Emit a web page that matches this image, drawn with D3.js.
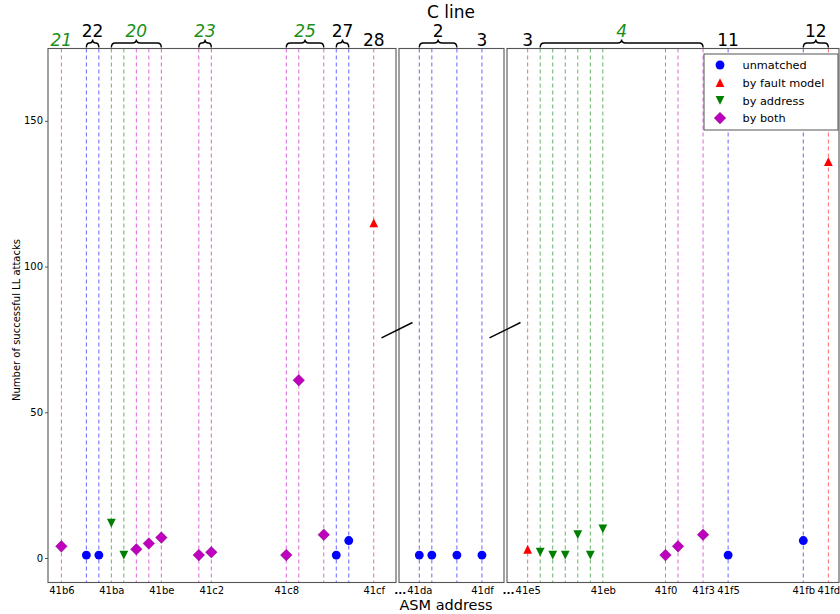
<!DOCTYPE html>
<html>
<head>
<meta charset="utf-8">
<script src="https://cdn.jsdelivr.net/npm/d3@7"></script>
<style>
  body { margin: 0; background: #fff; }
  text { font-family: "DejaVu Sans", sans-serif; }
</style>
</head>
<body>
<div id="graphique"></div>
<script>
// data
const addrs = ['41b6','41b8','41b9','41ba','41bb','41bc','41bd','41be','41c1','41c2','41c8','41c9','41cb','41cc','41cd','41cf',
               '41da','41db','41dd','41df',
               '41e5','41e6','41e7','41e8','41e9','41ea','41eb','41f0','41f1','41f3','41f5','41fb','41fd']
const kinds = ['both','unmatched','unmatched','address','address','both','both','both','both','both','both','both','both','unmatched','unmatched','fault',
               'unmatched','unmatched','unmatched','unmatched',
               'fault','address','address','address','address','address','address','both','both','both','unmatched','unmatched','fault']
const attacks = [4,1,1,12,1,3,5,7,1,2,1,61,8,1,6,115,
                 1,1,1,1,
                 3,2,1,1,8,1,10,1,4,8,1,6,136]

// C line groups
const lineLabels = ['21','22','20','23','25','27','28','2','3','3','4','11','12']
const lineFrom   = ['41b6','41b8','41ba','41c1','41c8','41cc','41cf','41da','41df','41e5','41e6','41f5','41fb']
const lineTo     = ['41b6','41b9','41be','41c2','41cb','41cd','41cf','41dd','41df','41e5','41f3','41f5','41fd']
const lineGreen  = [true,false,true,true,true,false,false,false,false,false,true,false,false]

// broken axis panels
const panelFirst = ['41b6','41da','41e5']
const panelLast  = ['41cf','41df','41fd']
const tickLabels = ['41b6','41ba','41be','41c2','41c8','41cf','41da','41df','41e5','41eb','41f0','41f3','41f5','41fb','41fd']
const yTicks = [0, 50, 100, 150]

const legendKeys = ['unmatched','fault','address','both']
const legendNames = ['unmatched','by fault model','by address','by both']

const colors = { unmatched: '#0000ff', fault: '#ff0000', address: '#007f00', both: '#bf00bf' }

const W = 840, H = 614
const plotTop = 48.5, plotBottom = 582.5
const panelRange = [[48, 396], [399, 504], [507, 839]]
const padL = [1.07, 1.62, 1.65], padR = [1.78, 1.76, 0.85]

const hex = s => parseInt(s, 16)

const xs = panelFirst.map((f, i) => d3.scaleLinear()
    .domain([hex(f) - padL[i], hex(panelLast[i]) + padR[i]])
    .range(panelRange[i]))

function panelOf(a) {
    const v = hex(a)
    for (let i = 0; i < 3; i++) {
        if (v >= hex(panelFirst[i]) && v <= hex(panelLast[i])) return i
    }
    return 0
}
const xOf = a => xs[panelOf(a)](hex(a))

const y = d3.scaleLinear().domain([-8.4, 174.8]).range([plotBottom, plotTop])

const svg = d3.select('#graphique').append('svg')
    .attr('width', W).attr('height', H)

// marker shapes like matplotlib
function marker(kind) {
    if (kind == 'unmatched') return d3.symbol(d3.symbolCircle, 62)()
    if (kind == 'both') return 'M0,-5.8L5.8,0L0,5.8L-5.8,0Z'
    if (kind == 'fault') return 'M0,-4.4L4.4,4.4L-4.4,4.4Z'
    return 'M0,4.4L4.4,-4.4L-4.4,-4.4Z'
}

// dashed vertical lines
svg.append('g').selectAll('line')
    .data(addrs)
    .enter().append('line')
    .attr('x1', d => xOf(d)).attr('x2', d => xOf(d))
    .attr('y1', plotTop).attr('y2', plotBottom)
    .attr('stroke', (d, i) => colors[kinds[i]])
    .attr('stroke-opacity', 0.6)
    .attr('stroke-width', 1)
    .attr('stroke-dasharray', '4,3')

// panel frames
panelRange.forEach((r, i) => {
    svg.append('rect')
        .attr('x', r[0]).attr('y', plotTop)
        .attr('width', r[1] - r[0]).attr('height', plotBottom - plotTop)
        .attr('fill', 'none')
        .attr('stroke', '#555')
        .attr('stroke-width', 1.1)

    // x tick labels
    const g = svg.append('g')
        .attr('transform', 'translate(0,' + plotBottom + ')')
        .call(d3.axisBottom(xs[i])
            .tickValues(tickLabels.filter(t => panelOf(t) == i).map(hex))
            .tickSize(0)
            .tickPadding(4)
            .tickFormat(v => v.toString(16)))
    g.select('.domain').remove()
    g.selectAll('text')
        .attr('font-size', 10)
        .attr('font-family', '"DejaVu Sans", sans-serif')
        .attr('fill', '#000')

    if (i > 0) {
        const first = g.select('.tick text')
        const w = first.node().getComputedTextLength()
        const tx = xs[i](hex(tickLabels.filter(t => panelOf(t) == i)[0]))
        svg.append('text')
            .attr('x', tx - w / 2 - 0.5).attr('y', plotBottom + 11.5)
            .attr('text-anchor', 'end')
            .attr('font-size', 10.5)
            .attr('font-weight', 'bold')
            .text('...')
    }
})

// y axis
const ya = svg.append('g')
    .attr('transform', 'translate(' + panelRange[0][0] + ',0)')
    .call(d3.axisLeft(y).tickValues(yTicks).tickSize(3).tickPadding(2))
ya.select('.domain').remove()
ya.selectAll('line').attr('stroke', '#555')
ya.selectAll('text').attr('font-size', 10).attr('font-family', '"DejaVu Sans", sans-serif')

// break marks
svg.append('g').selectAll('line')
    .data([0, 1])
    .enter().append('line')
    .attr('x1', i => (panelRange[i][1] + panelRange[i + 1][0]) / 2 - 16)
    .attr('x2', i => (panelRange[i][1] + panelRange[i + 1][0]) / 2 + 15)
    .attr('y1', y(75.5)).attr('y2', y(80.8))
    .attr('stroke', '#000')
    .attr('stroke-width', 1.5)

// points
svg.append('g').selectAll('path')
    .data(addrs)
    .enter().append('path')
    .attr('transform', (d, i) => 'translate(' + xOf(d) + ',' + y(attacks[i]) + ')')
    .attr('d', (d, i) => marker(kinds[i]))
    .attr('fill', (d, i) => colors[kinds[i]])
    .attr('stroke', (d, i) => kinds[i] == 'both' ? '#600060' : 'none')
    .attr('stroke-width', 0.4)

// C line braces and labels
function brace(x1, x2) {
    const m = (x1 + x2) / 2
    const r = Math.min(4, (x2 - x1) / 4)
    const y0 = 47.5, yb = 43, yp = 39.5
    return 'M' + x1 + ',' + y0 +
        'Q' + x1 + ',' + yb + ' ' + (x1 + r) + ',' + yb +
        'L' + (m - r) + ',' + yb +
        'Q' + m + ',' + yb + ' ' + m + ',' + yp +
        'Q' + m + ',' + yb + ' ' + (m + r) + ',' + yb +
        'L' + (x2 - r) + ',' + yb +
        'Q' + x2 + ',' + yb + ' ' + x2 + ',' + y0
}

lineLabels.forEach((lab, i) => {
    const x1 = xOf(lineFrom[i]), x2 = xOf(lineTo[i])
    const braced = lineFrom[i] != lineTo[i]
    if (braced) {
        svg.append('path')
            .attr('d', brace(x1, x2))
            .attr('fill', 'none')
            .attr('stroke', '#000')
            .attr('stroke-width', 1.4)
    }
    svg.append('text')
        .attr('x', (x1 + x2) / 2)
        .attr('y', braced ? 37 : 45.5)
        .attr('text-anchor', 'middle')
        .attr('font-size', 17)
        .attr('font-style', lineGreen[i] ? 'italic' : 'normal')
        .attr('fill', lineGreen[i] ? '#1a8f1a' : '#000')
        .text(lab)
})

// titles
svg.append('text')
    .attr('x', 451).attr('y', 18)
    .attr('text-anchor', 'middle')
    .attr('font-size', 17)
    .text('C line')

svg.append('text')
    .attr('x', 446).attr('y', 610)
    .attr('text-anchor', 'middle')
    .attr('font-size', 14.5)
    .text('ASM address')

svg.append('text')
    .attr('transform', 'translate(20,' + 320 + ') rotate(-90)')
    .attr('text-anchor', 'middle')
    .attr('font-size', 10)
    .text('Number of successful LL attacks')

// legend
const leg = svg.append('g').attr('transform', 'translate(704,54)')
leg.append('rect')
    .attr('width', 134).attr('height', 76)
    .attr('fill', '#fff')
    .attr('stroke', '#555')
    .attr('stroke-width', 1)

legendKeys.forEach((k, i) => {
    const row = leg.append('g').attr('transform', 'translate(0,' + (11 + i * 17.7) + ')')
    row.append('path')
        .attr('transform', 'translate(16,0)')
        .attr('d', marker(k))
        .attr('fill', colors[k])
        .attr('stroke', k == 'both' ? '#600060' : 'none')
        .attr('stroke-width', 0.4)
    row.append('text')
        .attr('x', 38.5).attr('y', 4.2)
        .attr('font-size', 11.3)
        .text(legendNames[i])
})
</script>
</body>
</html>
